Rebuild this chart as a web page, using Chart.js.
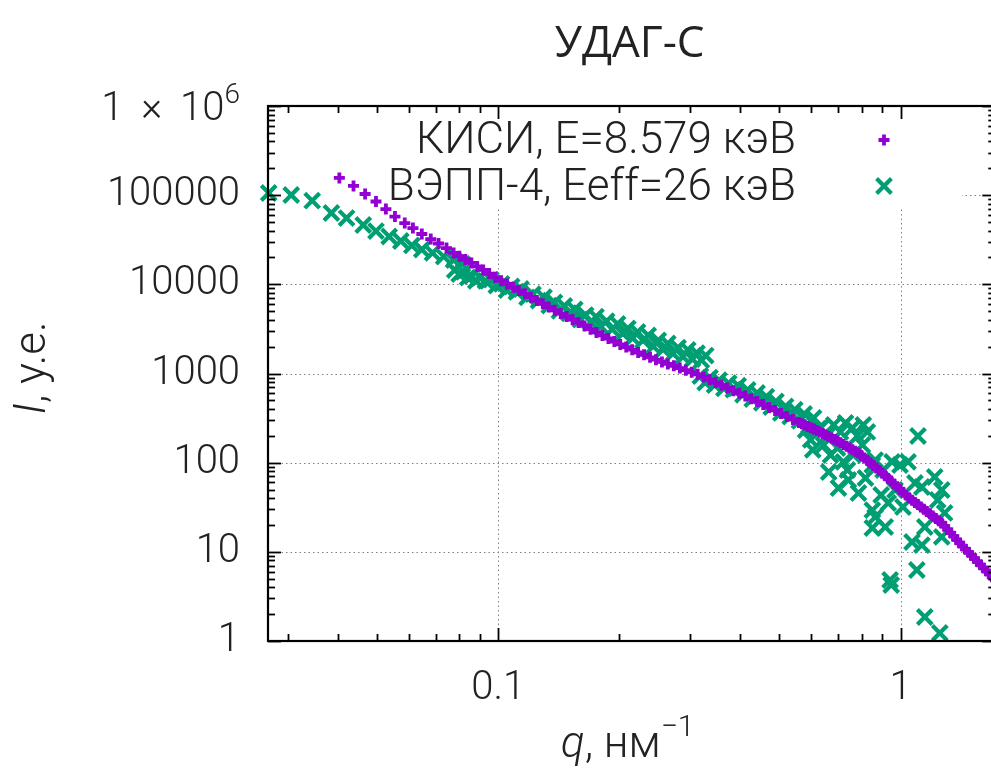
<!DOCTYPE html>
<html><head><meta charset="utf-8">
<script src="https://cdn.jsdelivr.net/npm/chart.js@4.4.0/dist/chart.umd.min.js"></script>
<style>
html,body{margin:0;padding:0;background:#fff;overflow:hidden;}
#wrap{width:991px;height:771px;overflow:hidden;position:relative;background:#fff;}
canvas{display:block;}
</style></head><body>
<div id="wrap"><canvas id="c" width="1010" height="771"></canvas></div>
<script>
// ---- text ----
const titleText = 'УДАГ-С';
const seriesNames = ['КИСИ, E=8.579 кэВ', 'ВЭПП-4, Eeff=26 кэВ'];
const xTickValues = [0.1, 1];
const xTickLabels = ['0.1', '1'];
const yTickValues = [1, 10, 100, 1000, 10000, 100000, 1000000];
const yTickLabels = ['1', '10', '100', '1000', '10000', '100000', '1 \u2009×\u2009 10|6'];

// ---- КИСИ, E=8.579 кэВ ----
const kisiQ = [0.0403,0.0437,0.0467,0.0497,0.0526,0.0554,0.0586,0.0614,0.0646,0.0680,0.0711,0.0744,0.0775,
  0.0801,0.0829,0.0858,0.0887,0.0918,0.0950,0.0983,0.1017,0.1052,0.1089,
  0.1126,0.1166,0.1206,0.1248,0.1291,0.1336,0.1382,0.1430,0.1480,0.1531,
  0.1584,0.1639,0.1696,0.1755,0.1816,0.1879,0.1944,0.2011,0.2081,0.2153,
  0.2228,0.2305,0.2385,0.2467,0.2553,0.2641,0.2733,0.2828,0.2926,0.3027,
  0.3132,0.3241,0.3353,0.3469,0.3589,0.3714,0.3842,0.3976,0.4113,0.4256,
  0.4403,0.4556,0.4714,0.4877,0.5046,0.5221,0.5402,0.5589,0.5783,0.5983,
  0.6191,0.6405,0.6627,0.6857,0.7095,0.7340,0.7595,0.7858,0.8131,0.8412,
  0.8704,0.9006,0.9318,0.9641,0.9975,1.032,1.068,1.105,1.143,1.183,
  1.224,1.266,1.310,1.356,1.403,1.451,1.502,1.554,1.608,1.663,1.721];
const kisiI = [156000,127000,103000,84900,69900,57600,48700,42800,36700,32200,28700,25500,22500,
  20700,19000,17400,15900,14500,13200,12000,11000,10100,9270,
  8510,7820,7180,6590,6060,5560,5110,4710,4360,4030,
  3730,3420,3140,2890,2670,2470,2280,2120,1980,1850,
  1720,1620,1520,1430,1350,1280,1220,1150,1090,1030,
  979,916,852,792,738,688,642,599,558,521,
  485,449,416,385,356,329,305,283,264,246,
  229,212,197,182,167,153,140,128,113,99.4,
  87.3,76.2,66.4,57.8,50.0,43.3,38.0,33.9,30.1,26.7,
  23.7,21.1,17.8,15.0,12.6,10.7,9.12,7.75,6.60,5.64,4.83];
// extra readings of the dense high-q part of the same curve
const kisiQ2 = [0.5685,0.5882,0.6085,0.6295,0.6512,0.6738,0.6971,0.7212,0.7464,0.7722,0.7989,0.8267,0.8553,0.8850,0.9158,0.9475,0.9803,
  1.0143,1.0495,1.0858,1.1234,1.1623,1.2026,1.2443,1.2874,1.3321,1.3782,1.4260,1.4754,1.5265,1.5793,1.6341,1.6907];
const kisiI2 = [273,255,238,221,204,189,175,160,146,134,120,106,93.2,81.7,71.2,62.1,53.8,
  46.5,40.4,35.8,31.9,28.3,25.2,22.3,19.3,16.3,13.7,11.6,9.88,8.42,7.15,6.10,5.22];

// ---- ВЭПП-4, Eeff=26 кэВ (several q ranges) ----
const veppQ1 = [0.0269,0.0306,0.0345,0.0385,0.0420,0.0462,0.0497,0.0536,0.0573,0.0610,0.0646,0.0687,0.0732,0.0775,0.0815];
const veppI1 = [105700,100400,86700,63100,55400,46300,39600,34400,30600,27300,24600,22500,20500,18700,16900];

const veppQ2 = [0.078,0.080,0.082,0.084,0.086,0.088,0.090,0.093,0.096,0.099,0.102,0.105,0.108,0.111,0.114,0.118,0.122,0.126,0.130,0.134,
  0.138,0.142,0.146,0.150,0.155,0.160,0.165,0.170,0.175,0.180,0.186,0.192,0.198,0.204,0.210,0.216,0.222,0.229,0.236,0.243,
  0.250,0.257,0.264,0.272,0.280,0.288,0.296,0.304,0.312,0.320,0.328];
const veppI2 = [14450,13030,13800,11910,12360,10940,11910,10940,11270,9660,10140,8630,9460,8260,8870,7140,7760,6560,7160,5780,
  6270,5050,5740,4740,5220,4030,4520,3760,4330,3370,3860,3130,3600,2800,3210,2490,2920,2350,2680,2010,
  2350,1860,2170,1670,1950,1540,1840,1450,1690,1410,1590];

const veppQ3 = [0.318,0.327,0.336,0.345,0.354,0.364,0.374,0.384,0.395,0.406,0.417,0.428,0.440,0.452,0.464,0.477,0.490,0.504,0.518,0.532,0.546,0.561,0.576,0.592,0.608,0.625];
const veppI3 = [938,789,897,740,843,681,778,658,731,575,656,518,605,469,550,420,485,361,428,329,392,294,352,259,318,240];

const veppQ4 = [0.633,0.659,0.682,0.709,0.730,0.759,0.781,0.808,0.827,0.644,0.670,0.697,0.721,
  0.605,0.663,0.701,0.738,0.763,0.786,0.818,0.851,0.865,0.905,0.953,0.997,1.044,
  0.851,0.865,0.851,0.916,0.932,0.895,1.014,1.086,1.130,1.216,1.266,1.237,1.287,1.149,1.266,1.068,1.130,1.098,0.942,0.948,1.149,1.252,
  1.105,0.581,0.598,0.742,0.804,0.969];
const veppI4 = [245,204,265,221,279,245,199,265,221,158,122,146,102,
  139,78.6,52.0,82.7,122,45.7,67.3,94.1,107,82.7,102,94.1,102,
  29.4,24.6,18.5,19.0,35.3,43.4,31.8,59.2,53.3,69.1,49.4,38.1,27.3,19.0,14.7,12.9,11.9,6.25,4.83,4.25,1.86,1.23,
  199,232,180,63.9,158,49.4];

// ---- axis ranges ----
const xRange = [0.026791, 1.72];
const yRange = [1, 1000000];

const colKisi = '#9400d3';
const colVepp = '#009e73';
const txt = '#222222';
const NUMF = 'Roboto, "Open Sans", sans-serif';
const kisiStyle = {pointStyle: 'cross', radius: 5.5, borderWidth: 3.8};
const veppStyle = {pointStyle: 'crossRot', radius: 10.5, borderWidth: 4.2};

const toPts = (qs, is) => qs.map((q, i) => ({x: q, y: is[i]}));
const kisiPts = [].concat(toPts(kisiQ, kisiI), toPts(kisiQ2, kisiI2));
const veppPts = [].concat(toPts(veppQ1, veppI1), toPts(veppQ2, veppI2), toPts(veppQ3, veppI3), toPts(veppQ4, veppI4));

function richWidth(ctx, parts){
  let t = 0;
  parts.forEach(p => { ctx.font = p.font; p.w = ctx.measureText(p.text).width; t += p.w; });
  return t;
}
function drawRich(ctx, parts, x0, base){
  let x = x0;
  parts.forEach(p => { ctx.font = p.font; ctx.fillText(p.text, x, base + (p.dy || 0)); x += p.w; });
}

const decor = {
  id: 'decor',
  beforeDatasetsDraw(chart){
    const {ctx, chartArea: a, scales: {x, y}} = chart;
    ctx.save();
    ctx.strokeStyle = '#808080';
    ctx.lineWidth = 1;
    ctx.setLineDash([1.5, 3]);
    xTickValues.forEach(v => {
      const px = Math.round(x.getPixelForValue(v)) + 0.5;
      ctx.beginPath(); ctx.moveTo(px, a.top); ctx.lineTo(px, a.bottom); ctx.stroke();
    });
    yTickValues.forEach(v => {
      const py = Math.round(y.getPixelForValue(v)) + 0.5;
      ctx.beginPath(); ctx.moveTo(a.left, py); ctx.lineTo(a.right, py); ctx.stroke();
    });
    ctx.setLineDash([]);
    // opaque key box
    ctx.fillStyle = '#ffffff';
    ctx.fillRect(a.left + 2, a.top + 2, 962 - a.left - 2, 207 - a.top - 2);
    ctx.restore();
  },
  afterDatasetsDraw(chart){
    const {ctx, chartArea: a, scales: {x, y}} = chart;
    ctx.save();
    ctx.strokeStyle = '#000';
    ctx.lineWidth = 2.2;
    ctx.strokeRect(a.left, a.top, a.right - a.left, a.bottom - a.top);
    ctx.lineWidth = 1.8;
    const tick = (x1, y1, x2, y2) => { ctx.beginPath(); ctx.moveTo(x1, y1); ctx.lineTo(x2, y2); ctx.stroke(); };
    const majL = 13, minL = 7;
    for (let d = -2; d <= 0; d++) {
      for (let m = 1; m <= 9; m++) {
        const v = m * Math.pow(10, d);
        if (v < xRange[0] || v > xRange[1]) continue;
        const px = Math.round(x.getPixelForValue(v)) + 0.5;
        const L = m === 1 ? majL : minL;
        tick(px, a.bottom, px, a.bottom - L);
        tick(px, a.top, px, a.top + L);
      }
    }
    for (let d = 0; d <= 6; d++) {
      for (let m = 1; m <= 9; m++) {
        const v = m * Math.pow(10, d);
        if (v < yRange[0] || v > yRange[1]) continue;
        const py = Math.round(y.getPixelForValue(v)) + 0.5;
        const L = m === 1 ? majL : minL;
        tick(a.left, py, a.left + L, py);
        tick(a.right, py, a.right - L, py);
      }
    }
    // key
    ctx.fillStyle = txt;
    ctx.textAlign = 'right';
    ctx.textBaseline = 'alphabetic';
    ctx.font = '300 44px ' + NUMF;
    ctx.fillText(seriesNames[0], 796, 153);
    ctx.fillText(seriesNames[1], 796, 200);
    ctx.strokeStyle = colKisi;
    ctx.lineWidth = kisiStyle.borderWidth;
    Chart.helpers.drawPoint(ctx, Object.assign({rotation: 0}, kisiStyle), 884, 140);
    ctx.strokeStyle = colVepp;
    ctx.lineWidth = veppStyle.borderWidth;
    Chart.helpers.drawPoint(ctx, Object.assign({rotation: 0}, veppStyle), 884, 186);
    ctx.restore();
  },
  afterDraw(chart){
    const {ctx, chartArea: a, scales: {y}} = chart;
    ctx.save();
    ctx.fillStyle = txt;
    ctx.textAlign = 'left';
    ctx.textBaseline = 'alphabetic';
    const cx = (a.left + a.right) / 2 - 2;
    ctx.font = '44px "Open Sans", sans-serif';
    const tw = ctx.measureText(titleText).width;
    ctx.fillText(titleText, cx - tw / 2, 57);
    const lab = yTickLabels[yTickLabels.length - 1].split('|');
    const p1 = [{text: lab[0], font: '300 40px ' + NUMF}, {text: lab[1], font: '300 28px ' + NUMF, dy: -17}];
    const w = richWidth(ctx, p1);
    drawRich(ctx, p1, 240 - w, Math.round(y.getPixelForValue(yRange[1])) + 14);
    const px = [
      {text: 'q', font: 'italic 300 44px ' + NUMF},
      {text: ', нм', font: '300 44px ' + NUMF},
      {text: '−1', font: '300 30px ' + NUMF, dy: -21}
    ];
    const wx = richWidth(ctx, px);
    drawRich(ctx, px, cx - wx / 2 - 2, 757);
    const py = [
      {text: 'I', font: 'italic 300 44px ' + NUMF},
      {text: ', у.е.', font: '300 44px ' + NUMF}
    ];
    const wy = richWidth(ctx, py);
    ctx.translate(45, 368);
    ctx.rotate(-Math.PI / 2);
    drawRich(ctx, py, -wy / 2, 0);
    ctx.restore();
  }
};

new Chart(document.getElementById('c'), {
  type: 'scatter',
  data: {
    datasets: [
      {label: seriesNames[0], data: kisiPts, pointStyle: kisiStyle.pointStyle, pointRadius: kisiStyle.radius, pointHoverRadius: kisiStyle.radius,
       pointBorderWidth: kisiStyle.borderWidth, borderColor: colKisi, backgroundColor: colKisi, pointBorderColor: colKisi, clip: false},
      {label: seriesNames[1], data: veppPts, pointStyle: veppStyle.pointStyle, pointRadius: veppStyle.radius, pointHoverRadius: veppStyle.radius,
       pointBorderWidth: veppStyle.borderWidth, borderColor: colVepp, backgroundColor: colVepp, pointBorderColor: colVepp, clip: false}
    ]
  },
  options: {
    responsive: false,
    animation: false,
    devicePixelRatio: 1,
    events: [],
    layout: {padding: {left: 0, right: 9, top: 106, bottom: 0}},
    plugins: {legend: {display: false}, tooltip: {enabled: false}, title: {display: false}},
    scales: {
      x: {
        type: 'logarithmic', position: 'bottom', min: xRange[0], max: xRange[1],
        grid: {display: false, drawTicks: false}, border: {display: false},
        afterBuildTicks: s => { s.ticks = xTickValues.map(v => ({value: v})); },
        afterFit: s => { s.height = 130; },
        ticks: {autoSkip: false, maxRotation: 0, padding: 24, color: txt,
          font: {family: NUMF, size: 40, weight: 300},
          callback: v => { const i = xTickValues.indexOf(v); return i >= 0 ? xTickLabels[i] : ''; }}
      },
      y: {
        type: 'logarithmic', position: 'left', min: yRange[0], max: yRange[1],
        grid: {display: false, drawTicks: false}, border: {display: false},
        afterBuildTicks: s => { s.ticks = yTickValues.map(v => ({value: v})); },
        afterFit: s => { s.width = 268; },
        ticks: {autoSkip: false, padding: 28, color: txt,
          font: {family: NUMF, size: 40, weight: 300},
          callback: v => { const i = yTickValues.indexOf(v); return (i >= 0 && i < yTickValues.length - 1) ? yTickLabels[i] : ''; }}
      }
    }
  },
  plugins: [decor]
});
</script>
</body></html>
